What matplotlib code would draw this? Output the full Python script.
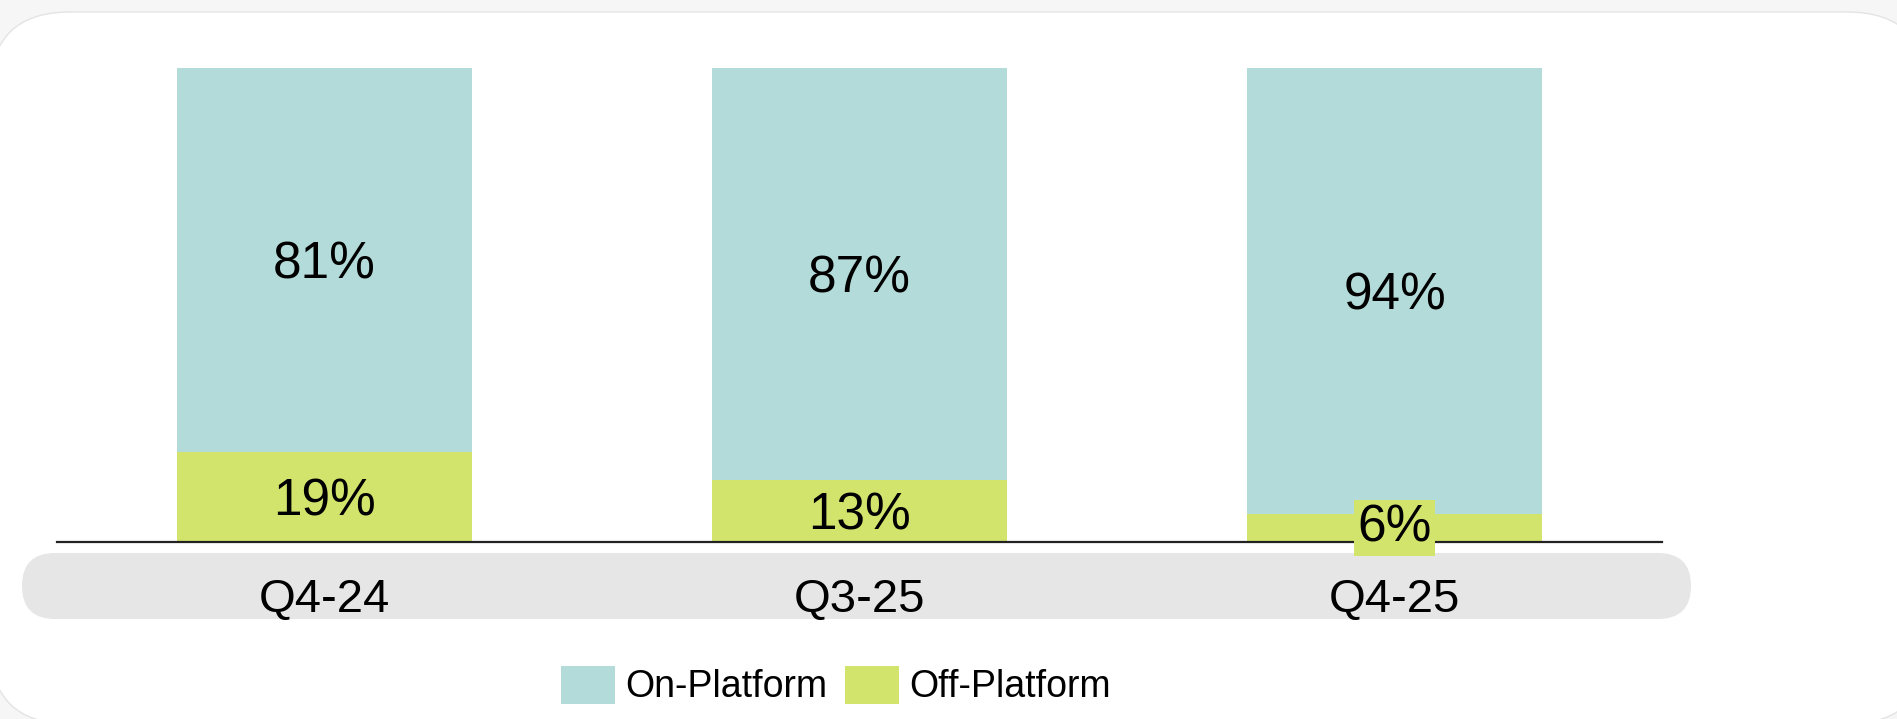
import matplotlib
matplotlib.use('Agg')
import matplotlib.pyplot as plt
from matplotlib.patches import FancyBboxPatch, Patch

plt.rcParams['font.family'] = ['Liberation Sans', 'DejaVu Sans']

# data
quarters = ['Q4-24', 'Q3-25', 'Q4-25']
off_platform = [19, 13, 6]
on_platform = [81, 87, 94]
series_names = ['On-Platform', 'Off-Platform']

teal = '#b3dbd9'
lime = '#d2e46c'

W, H = 1897, 719
fig = plt.figure(figsize=(W / 100, H / 100), dpi=100)
fig.patch.set_facecolor('#f6f6f6')

# background card + grey category band (pixel coords, y from top)
bg = fig.add_axes([0, 0, 1, 1], zorder=0)
bg.set_xlim(0, W)
bg.set_ylim(H, 0)
bg.axis('off')
card = FancyBboxPatch((-10, 12), W + 40, 712, boxstyle='round,pad=0,rounding_size=80',
                      facecolor='white', edgecolor='#e4e4e4', linewidth=1)
bg.add_patch(card)
band = FancyBboxPatch((22, 553), 1691 - 22, 66, boxstyle='round,pad=0,rounding_size=33',
                      facecolor='#e6e6e6', edgecolor='none')
bg.add_patch(band)

# bar axes: y=0 at 542px from top, y=100 at 68px
ax = fig.add_axes([57 / W, (H - 542) / H, 1605 / W, 474 / H], zorder=1)
ax.patch.set_alpha(0)
x = list(range(len(quarters)))
bw = 295 / 535
ax.bar(x, off_platform, width=bw, color=lime, linewidth=0)
ax.bar(x, on_platform, width=bw, bottom=off_platform, color=teal, linewidth=0)
ax.set_xlim(-0.5, 2.5)
ax.set_ylim(0, 100)

for s in ['top', 'right', 'left']:
    ax.spines[s].set_visible(False)
ax.spines['bottom'].set_color('#222222')
ax.spines['bottom'].set_linewidth(1.6)
ax.spines['bottom'].set_zorder(3)
ax.set_yticks([])
ax.set_xticks([])

lab_fs = 37
off_pt = -18.5 * 72 / 100
for i in x:
    ax.annotate(f'{on_platform[i]}%', (i, off_platform[i] + on_platform[i] / 2),
                xytext=(0, off_pt), textcoords='offset points',
                ha='center', va='baseline', fontsize=lab_fs, color='black')
    if off_platform[i] < 10:
        # small segment: label sits on its own lime box over the baseline
        ax.annotate(f'{off_platform[i]}%', (i, off_platform[i] / 2),
                    ha='center', va='center', fontsize=lab_fs, color='black', zorder=5,
                    bbox=dict(boxstyle='square,pad=0.07', facecolor=lime, edgecolor='none'))
    else:
        ax.annotate(f'{off_platform[i]}%', (i, off_platform[i] / 2),
                    xytext=(0, off_pt), textcoords='offset points',
                    ha='center', va='baseline', fontsize=lab_fs, color='black')
    ax.text(i, (542 - 612) / 474, quarters[i], transform=ax.get_xaxis_transform(),
            ha='center', va='baseline', fontsize=34, color='black')

handles = [Patch(facecolor=teal, edgecolor='none'), Patch(facecolor=lime, edgecolor='none')]
fig.legend(handles, series_names, loc='center left',
           bbox_to_anchor=(561 / W, (H - 685.5) / H), ncol=2, frameon=False,
           fontsize=27, handlelength=1.45, handleheight=1.2, handletextpad=0.27,
           columnspacing=0.45, borderpad=0, borderaxespad=0)

fig.savefig('out.png', dpi=100, facecolor=fig.get_facecolor())
